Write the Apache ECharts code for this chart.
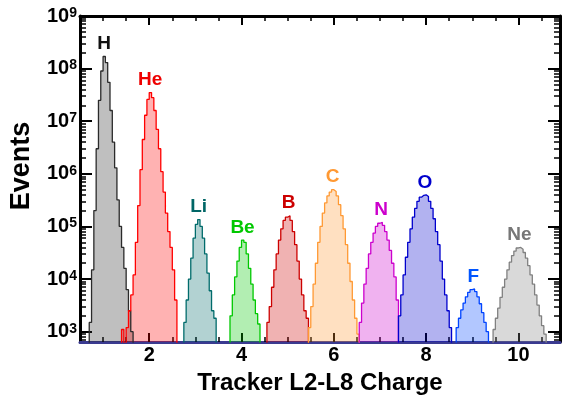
<!DOCTYPE html>
<html>
<head>
<meta charset="utf-8">
<script src="https://cdn.jsdelivr.net/npm/echarts@6/dist/echarts.min.js"></script>
<style>
html, body { margin: 0; padding: 0; background: #fff; }
#chart { width: 563px; height: 401px; }
</style>
</head>
<body>
<div id="chart"></div>
<script>
// histogram bins are 0.05 charge units wide, each list starts at binStarts[i]
var binWidth = 0.05;
var floorValue = 100; // below the axis minimum, closes each histogram

var elements = ['H', 'He', 'Li', 'Be', 'B', 'C', 'N', 'O', 'F', 'Ne'];
var binStarts = [0.70, 1.40, 2.75, 3.75, 4.55, 5.45, 6.55, 7.40, 8.65, 9.45];

var hCounts = [1500, 15000, 2e5, 3e6, 2.5e7, 9e7, 1.7e8, 1.3e8, 5.5e7, 1.6e7, 4e6,
  1.3e6, 3.2e5, 1e5, 4e4, 1.6e4, 6300, 2500, 1000];
var heCounts = [1100, 400, 1200, 2500, 5000, 12000, 5e4, 2.5e5, 1.2e6, 4.5e6, 1.3e7,
  2.6e7, 3.5e7, 2.8e7, 1.6e7, 7e6, 3e6, 1.1e6, 4.5e5, 1.8e5, 8e4, 4e4, 15000, 4000];
var liCounts = [1500, 4000, 10000, 25000, 60000, 110000, 135000, 100000, 60000, 30000,
  13000, 6000, 2500, 1800];
var beCounts = [2000, 5000, 11000, 22000, 40000, 55000, 50000, 30000, 16000, 8000,
  4000, 2200, 1400];
var bCounts = [1500, 3000, 7000, 15000, 30000, 55000, 90000, 130000, 150000, 160000,
  130000, 80000, 45000, 22000, 10000, 5000, 2500, 1800];
var cCounts = [1200, 3000, 8000, 20000, 50000, 100000, 180000, 280000, 380000, 450000,
  500000, 460000, 380000, 260000, 160000, 90000, 45000, 20000, 9000, 4000, 1800, 900];
var nCounts = [1500, 3500, 8000, 16000, 30000, 50000, 75000, 100000, 115000, 120000,
  105000, 80000, 55000, 35000, 20000, 11000, 4000];
var oCounts = [2000, 5000, 12000, 26000, 50000, 90000, 150000, 220000, 300000, 360000,
  390000, 400000, 370000, 300000, 220000, 140000, 80000, 45000, 22000, 10000, 5000,
  2500, 1200];
var fCounts = [1200, 1800, 2600, 3500, 4600, 5600, 6300, 6500, 5800, 4600, 3400, 2300,
  1500, 1000];
var neCounts = [1100, 1800, 2800, 4500, 7000, 10000, 15000, 21000, 28000, 34000, 39000,
  40000, 37000, 32000, 25000, 18000, 12000, 8000, 5000, 3200, 2000, 1300, 900];

var allCounts = [hCounts, heCounts, liCounts, beCounts, bCounts, cCounts, nCounts,
  oCounts, fCounts, neCounts];

var lineColors = ['#2a2a2a', '#ff0000', '#006b6b', '#00c800', '#cc0000', '#ff9933',
  '#cc00cc', '#0000cc', '#0044ff', '#808080'];
var labelColors = ['#111111', '#ee0000', '#006666', '#00c800', '#cc0000', '#ff9933',
  '#cc00cc', '#0000cc', '#0055ff', '#777777'];

// axis ticks
var xLabelTicks = [2, 4, 6, 8, 10];
var xMinorTicks = [1, 1.5, 2.5, 3, 3.5, 4.5, 5, 5.5, 6.5, 7, 7.5, 8.5, 9, 9.5, 10.5];
var yMajorTicks = [1e3, 1e4, 1e5, 1e6, 1e7, 1e8, 1e9];
var yMantissas = [2, 3, 4, 5, 6, 7, 8, 9];
var yDecades = [1e2, 1e3, 1e4, 1e5, 1e6, 1e7, 1e8];

var xMin = 0.5, xMax = 10.9;
var yMin = 637, yMax = 1e9;

var yMinorTicks = [];
yDecades.forEach(function (d) {
  yMantissas.forEach(function (m) {
    var v = m * d;
    if (v > yMin && v < yMax) yMinorTicks.push(v);
  });
});

var font = 'Liberation Sans, Arial, Helvetica, sans-serif';

function histData(start, counts) {
  var pts = [[start, floorValue]];
  counts.forEach(function (c, i) {
    pts.push([+(start + i * binWidth).toFixed(3), c]);
  });
  pts.push([+(start + counts.length * binWidth).toFixed(3), floorValue]);
  return pts;
}

var chartDom = document.getElementById('chart');
var myChart = echarts.init(chartDom);

function xAxisDef(position, ticks, len, showLine, lineColor, extra) {
  var a = {
    type: 'value',
    position: position,
    min: xMin,
    max: xMax,
    splitLine: { show: false },
    axisLine: { show: showLine, onZero: false, lineStyle: { color: lineColor, width: 3 } },
    axisTick: { show: true, inside: true, length: len, customValues: ticks,
      lineStyle: { color: '#000', width: len > 6 ? 2 : 1.5 } },
    axisLabel: { show: false }
  };
  return Object.assign(a, extra || {});
}

function yAxisDef(position, ticks, len, showLine, extra) {
  var a = {
    type: 'log',
    position: position,
    min: yMin,
    max: yMax,
    splitLine: { show: false },
    axisLine: { show: showLine, lineStyle: { color: '#000', width: 3 } },
    axisTick: { show: true, inside: true, length: len, customValues: ticks,
      lineStyle: { color: '#000', width: len > 8 ? 2 : 1.5 } },
    axisLabel: { show: false }
  };
  return Object.assign(a, extra || {});
}

var series = elements.map(function (name, i) {
  return {
    type: 'line',
    name: name,
    step: 'end',
    symbol: 'none',
    xAxisIndex: 0,
    yAxisIndex: 0,
    data: histData(binStarts[i], allCounts[i]),
    lineStyle: { color: lineColors[i], width: 1.3 },
    areaStyle: { color: lineColors[i], opacity: 0.3, origin: 'start' },
    markPoint: {
      symbol: 'circle',
      symbolSize: 0,
      data: [{ type: 'max' }],
      label: {
        show: true,
        position: 'top',
        distance: 3,
        offset: [1, 0],
        formatter: name,
        color: labelColors[i],
        fontSize: 19,
        fontWeight: 'bold',
        fontFamily: font
      }
    }
  };
});

var option = {
  animation: false,
  backgroundColor: '#fff',
  grid: { left: 80, right: 3, top: 16, bottom: 59 },
  xAxis: [
    xAxisDef('bottom', xLabelTicks, 9, true, '#3a3a90', {
      name: 'Tracker L2-L8 Charge',
      nameLocation: 'middle',
      nameGap: 29,
      nameTextStyle: { fontSize: 24, fontWeight: 'bold', color: '#000', fontFamily: font },
      axisLabel: { show: true, customValues: xLabelTicks, margin: 3, fontSize: 20,
        fontWeight: 'bold', color: '#000', fontFamily: font }
    }),
    xAxisDef('bottom', xMinorTicks, 5, false, '#000'),
    xAxisDef('top', xLabelTicks, 9, true, '#000'),
    xAxisDef('top', xMinorTicks, 5, false, '#000')
  ],
  yAxis: [
    yAxisDef('left', yMajorTicks, 12, true, {
      name: 'Events',
      nameLocation: 'middle',
      nameGap: 45,
      nameTextStyle: { fontSize: 27, fontWeight: 'bold', color: '#000', fontFamily: font,
        padding: [0, 0, 0, 26] },
      axisLabel: {
        show: true,
        customValues: yMajorTicks,
        margin: 3,
        formatter: function (v) {
          return '{b|10}{s|' + Math.round(Math.log10(v)) + '}';
        },
        rich: {
          b: { fontSize: 20, fontWeight: 'bold', color: '#000', fontFamily: font },
          s: { fontSize: 14, fontWeight: 'bold', color: '#000', fontFamily: font,
            verticalAlign: 'top' }
        }
      }
    }),
    yAxisDef('left', yMinorTicks, 6, false),
    yAxisDef('right', yMajorTicks, 12, true),
    yAxisDef('right', yMinorTicks, 6, false)
  ],
  series: series
};

option && myChart.setOption(option);
</script>
</body>
</html>
